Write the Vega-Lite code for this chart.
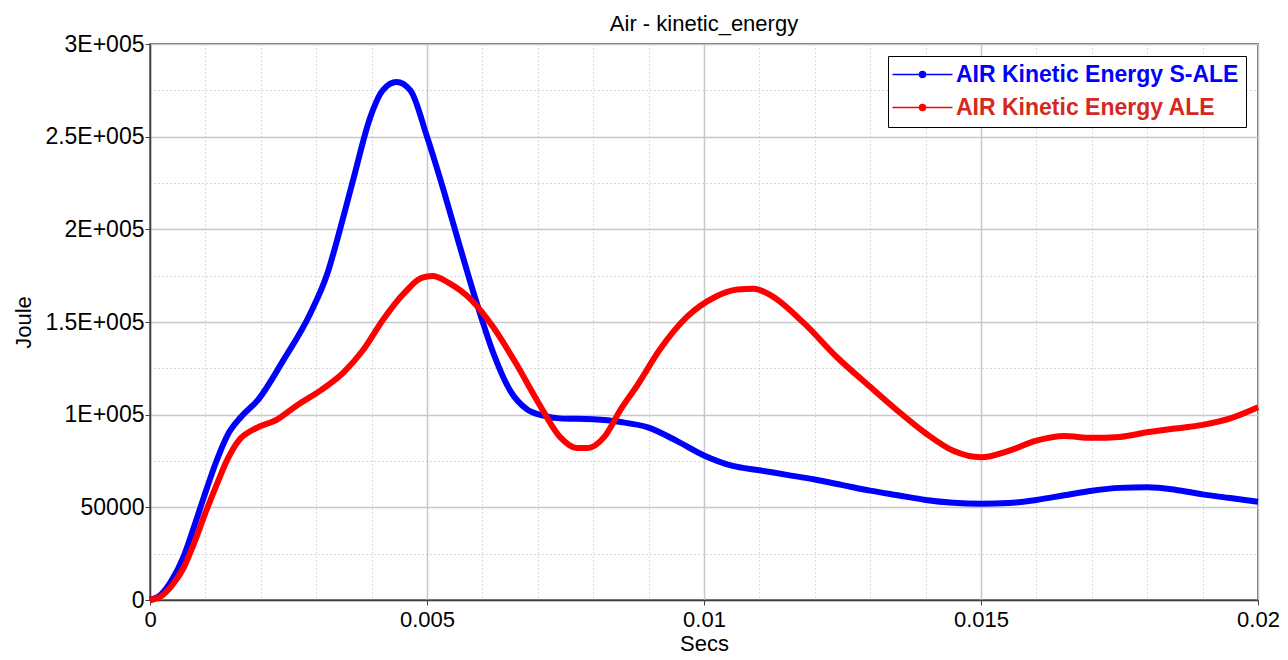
{
  "$schema": "https://vega.github.io/schema/vega-lite/v6.json",
  "autosize": "none",
  "width": 1108,
  "height": 556,
  "padding": {"left": 150, "top": 44, "right": 30, "bottom": 60},
  "background": "white",
  "title": {"text": "Air - kinetic_energy", "frame": "group", "anchor": "middle", "baseline": "alphabetic", "offset": 12, "dy": 32, "font": "Liberation Sans", "fontSize": 22, "fontWeight": "normal", "color": "#000000"},
  "config": {
    "view": {"stroke": "#404040", "strokeWidth": 1.5},
    "axis": {"labelFont": "Liberation Sans", "titleFont": "Liberation Sans", "labelColor": "#000000", "titleColor": "#000000"}
  },
  "data": {"values": [
    {"s": "AIR Kinetic Energy S-ALE", "t": 0, "e": 0},
    {"s": "AIR Kinetic Energy S-ALE", "t": 0.0002, "e": 3000},
    {"s": "AIR Kinetic Energy S-ALE", "t": 0.0004, "e": 11000},
    {"s": "AIR Kinetic Energy S-ALE", "t": 0.0006, "e": 23000},
    {"s": "AIR Kinetic Energy S-ALE", "t": 0.0008, "e": 40000},
    {"s": "AIR Kinetic Energy S-ALE", "t": 0.001, "e": 58000},
    {"s": "AIR Kinetic Energy S-ALE", "t": 0.0012, "e": 75000},
    {"s": "AIR Kinetic Energy S-ALE", "t": 0.0014, "e": 89000},
    {"s": "AIR Kinetic Energy S-ALE", "t": 0.00165, "e": 99000},
    {"s": "AIR Kinetic Energy S-ALE", "t": 0.00195, "e": 108000},
    {"s": "AIR Kinetic Energy S-ALE", "t": 0.0024, "e": 129000},
    {"s": "AIR Kinetic Energy S-ALE", "t": 0.0029, "e": 155000},
    {"s": "AIR Kinetic Energy S-ALE", "t": 0.0032, "e": 176000},
    {"s": "AIR Kinetic Energy S-ALE", "t": 0.00343, "e": 200000},
    {"s": "AIR Kinetic Energy S-ALE", "t": 0.00367, "e": 227000},
    {"s": "AIR Kinetic Energy S-ALE", "t": 0.00397, "e": 260000},
    {"s": "AIR Kinetic Energy S-ALE", "t": 0.0042, "e": 275000},
    {"s": "AIR Kinetic Energy S-ALE", "t": 0.00445, "e": 279500},
    {"s": "AIR Kinetic Energy S-ALE", "t": 0.0047, "e": 275000},
    {"s": "AIR Kinetic Energy S-ALE", "t": 0.005, "e": 250000},
    {"s": "AIR Kinetic Energy S-ALE", "t": 0.0053, "e": 221000},
    {"s": "AIR Kinetic Energy S-ALE", "t": 0.0056, "e": 190000},
    {"s": "AIR Kinetic Energy S-ALE", "t": 0.0059, "e": 160000},
    {"s": "AIR Kinetic Energy S-ALE", "t": 0.0062, "e": 133000},
    {"s": "AIR Kinetic Energy S-ALE", "t": 0.0065, "e": 113000},
    {"s": "AIR Kinetic Energy S-ALE", "t": 0.0068, "e": 103000},
    {"s": "AIR Kinetic Energy S-ALE", "t": 0.0071, "e": 99500},
    {"s": "AIR Kinetic Energy S-ALE", "t": 0.0074, "e": 98000},
    {"s": "AIR Kinetic Energy S-ALE", "t": 0.008, "e": 97500},
    {"s": "AIR Kinetic Energy S-ALE", "t": 0.0085, "e": 96000},
    {"s": "AIR Kinetic Energy S-ALE", "t": 0.009, "e": 93000},
    {"s": "AIR Kinetic Energy S-ALE", "t": 0.0095, "e": 86000},
    {"s": "AIR Kinetic Energy S-ALE", "t": 0.01, "e": 78000},
    {"s": "AIR Kinetic Energy S-ALE", "t": 0.0105, "e": 72500},
    {"s": "AIR Kinetic Energy S-ALE", "t": 0.011, "e": 70000},
    {"s": "AIR Kinetic Energy S-ALE", "t": 0.0115, "e": 67500},
    {"s": "AIR Kinetic Energy S-ALE", "t": 0.012, "e": 65000},
    {"s": "AIR Kinetic Energy S-ALE", "t": 0.0125, "e": 62000},
    {"s": "AIR Kinetic Energy S-ALE", "t": 0.013, "e": 59000},
    {"s": "AIR Kinetic Energy S-ALE", "t": 0.0135, "e": 56500},
    {"s": "AIR Kinetic Energy S-ALE", "t": 0.014, "e": 54000},
    {"s": "AIR Kinetic Energy S-ALE", "t": 0.0145, "e": 52500},
    {"s": "AIR Kinetic Energy S-ALE", "t": 0.015, "e": 52000},
    {"s": "AIR Kinetic Energy S-ALE", "t": 0.0155, "e": 52300},
    {"s": "AIR Kinetic Energy S-ALE", "t": 0.016, "e": 54000},
    {"s": "AIR Kinetic Energy S-ALE", "t": 0.0165, "e": 56500},
    {"s": "AIR Kinetic Energy S-ALE", "t": 0.017, "e": 59000},
    {"s": "AIR Kinetic Energy S-ALE", "t": 0.0175, "e": 60500},
    {"s": "AIR Kinetic Energy S-ALE", "t": 0.018, "e": 60800},
    {"s": "AIR Kinetic Energy S-ALE", "t": 0.0185, "e": 59500},
    {"s": "AIR Kinetic Energy S-ALE", "t": 0.019, "e": 57000},
    {"s": "AIR Kinetic Energy S-ALE", "t": 0.0195, "e": 55000},
    {"s": "AIR Kinetic Energy S-ALE", "t": 0.02, "e": 53000},
    {"s": "AIR Kinetic Energy ALE", "t": 0, "e": 0},
    {"s": "AIR Kinetic Energy ALE", "t": 0.0002, "e": 2000},
    {"s": "AIR Kinetic Energy ALE", "t": 0.0004, "e": 8000},
    {"s": "AIR Kinetic Energy ALE", "t": 0.0006, "e": 17000},
    {"s": "AIR Kinetic Energy ALE", "t": 0.0008, "e": 31000},
    {"s": "AIR Kinetic Energy ALE", "t": 0.001, "e": 47000},
    {"s": "AIR Kinetic Energy ALE", "t": 0.0012, "e": 62000},
    {"s": "AIR Kinetic Energy ALE", "t": 0.0014, "e": 76000},
    {"s": "AIR Kinetic Energy ALE", "t": 0.0016, "e": 86000},
    {"s": "AIR Kinetic Energy ALE", "t": 0.0019, "e": 92500},
    {"s": "AIR Kinetic Energy ALE", "t": 0.0023, "e": 97500},
    {"s": "AIR Kinetic Energy ALE", "t": 0.00265, "e": 105000},
    {"s": "AIR Kinetic Energy ALE", "t": 0.0031, "e": 113500},
    {"s": "AIR Kinetic Energy ALE", "t": 0.0035, "e": 123000},
    {"s": "AIR Kinetic Energy ALE", "t": 0.00385, "e": 135000},
    {"s": "AIR Kinetic Energy ALE", "t": 0.0042, "e": 151000},
    {"s": "AIR Kinetic Energy ALE", "t": 0.0046, "e": 166000},
    {"s": "AIR Kinetic Energy ALE", "t": 0.0049, "e": 173800},
    {"s": "AIR Kinetic Energy ALE", "t": 0.0051, "e": 174800},
    {"s": "AIR Kinetic Energy ALE", "t": 0.0054, "e": 171000},
    {"s": "AIR Kinetic Energy ALE", "t": 0.0058, "e": 162000},
    {"s": "AIR Kinetic Energy ALE", "t": 0.0062, "e": 147000},
    {"s": "AIR Kinetic Energy ALE", "t": 0.0066, "e": 128000},
    {"s": "AIR Kinetic Energy ALE", "t": 0.007, "e": 107000},
    {"s": "AIR Kinetic Energy ALE", "t": 0.0074, "e": 88000},
    {"s": "AIR Kinetic Energy ALE", "t": 0.0077, "e": 82000},
    {"s": "AIR Kinetic Energy ALE", "t": 0.0079, "e": 82000},
    {"s": "AIR Kinetic Energy ALE", "t": 0.0082, "e": 88000},
    {"s": "AIR Kinetic Energy ALE", "t": 0.0085, "e": 103000},
    {"s": "AIR Kinetic Energy ALE", "t": 0.0088, "e": 116000},
    {"s": "AIR Kinetic Energy ALE", "t": 0.0092, "e": 135000},
    {"s": "AIR Kinetic Energy ALE", "t": 0.0097, "e": 153000},
    {"s": "AIR Kinetic Energy ALE", "t": 0.0102, "e": 163500},
    {"s": "AIR Kinetic Energy ALE", "t": 0.0106, "e": 167500},
    {"s": "AIR Kinetic Energy ALE", "t": 0.0109, "e": 168000},
    {"s": "AIR Kinetic Energy ALE", "t": 0.0112, "e": 164500},
    {"s": "AIR Kinetic Energy ALE", "t": 0.0118, "e": 149500},
    {"s": "AIR Kinetic Energy ALE", "t": 0.0124, "e": 131000},
    {"s": "AIR Kinetic Energy ALE", "t": 0.013, "e": 115000},
    {"s": "AIR Kinetic Energy ALE", "t": 0.0135, "e": 102000},
    {"s": "AIR Kinetic Energy ALE", "t": 0.014, "e": 90000},
    {"s": "AIR Kinetic Energy ALE", "t": 0.0145, "e": 80500},
    {"s": "AIR Kinetic Energy ALE", "t": 0.015, "e": 77000},
    {"s": "AIR Kinetic Energy ALE", "t": 0.0155, "e": 80500},
    {"s": "AIR Kinetic Energy ALE", "t": 0.016, "e": 86000},
    {"s": "AIR Kinetic Energy ALE", "t": 0.0165, "e": 88500},
    {"s": "AIR Kinetic Energy ALE", "t": 0.017, "e": 87500},
    {"s": "AIR Kinetic Energy ALE", "t": 0.0175, "e": 88000},
    {"s": "AIR Kinetic Energy ALE", "t": 0.018, "e": 90500},
    {"s": "AIR Kinetic Energy ALE", "t": 0.0185, "e": 92500},
    {"s": "AIR Kinetic Energy ALE", "t": 0.019, "e": 94500},
    {"s": "AIR Kinetic Energy ALE", "t": 0.0195, "e": 98000},
    {"s": "AIR Kinetic Energy ALE", "t": 0.02, "e": 104000}
  ]},
  "layer": [
    {
      "mark": {"type": "line", "strokeWidth": 0, "opacity": 0},
      "encoding": {
        "x": {"field": "t", "type": "quantitative", "scale": {"domain": [0, 0.02], "nice": false, "zero": false},
          "axis": {"orient": "bottom", "values": [0.001, 0.002, 0.003, 0.004, 0.006, 0.007, 0.008, 0.009, 0.011, 0.012, 0.013, 0.014, 0.016, 0.017, 0.018, 0.019], "labels": false, "ticks": false, "domain": false, "title": null, "grid": true, "gridColor": "#b4b4b4", "gridDash": [1, 3], "gridWidth": 1}},
        "y": {"field": "e", "type": "quantitative", "scale": {"domain": [0, 300000], "nice": false},
          "axis": {"orient": "left", "values": [25000, 75000, 125000, 175000, 225000, 275000], "labels": false, "ticks": false, "domain": false, "title": null, "grid": true, "gridColor": "#b4b4b4", "gridDash": [1, 3], "gridWidth": 1}},
        "detail": {"field": "s"}
      }
    },
    {
      "mark": {"type": "line", "strokeWidth": 6, "interpolate": "monotone"},
      "encoding": {
        "x": {"field": "t", "type": "quantitative", "scale": {"domain": [0, 0.02], "nice": false, "zero": false},
          "axis": {"orient": "bottom", "values": [0, 0.005, 0.01, 0.015, 0.02], "labelExpr": "'' + datum.value", "labelFlush": false, "labelOverlap": false, "labelFontSize": 22, "labelPadding": 4, "tickSize": 5, "tickColor": "#404040", "domainColor": "#404040", "domainWidth": 1.5, "grid": true, "gridColor": "#c8c8c8", "gridWidth": 1.5, "title": "Secs", "titleFontSize": 22, "titleFontWeight": "normal", "titleY": 43, "titleBaseline": "middle"}},
        "y": {"field": "e", "type": "quantitative", "scale": {"domain": [0, 300000], "nice": false},
          "axis": {"orient": "left", "values": [0, 50000, 100000, 150000, 200000, 250000, 300000], "labelExpr": "datum.value >= 100000 ? (datum.value / 100000) + 'E+005' : '' + datum.value", "labelFlush": false, "labelOverlap": false, "labelFontSize": 23, "labelPadding": 1, "tickSize": 5, "tickColor": "#404040", "domainColor": "#404040", "domainWidth": 1.5, "grid": true, "gridColor": "#c8c8c8", "gridWidth": 1.5, "title": "Joule", "titleFontSize": 22, "titleFontWeight": "normal", "titleX": -127, "titleY": 278, "titleAngle": -90, "titleAlign": "center", "titleBaseline": "middle"}},
        "color": {"field": "s", "type": "nominal",
          "scale": {"domain": ["AIR Kinetic Energy S-ALE", "AIR Kinetic Energy ALE"], "range": ["#0000ff", "#ff0000"]},
          "legend": {"orient": "none", "legendX": 738, "legendY": 12, "direction": "vertical", "title": null, "strokeColor": "#000000", "fillColor": "#ffffff", "padding": 7,
            "labelFont": "Liberation Sans", "labelFontSize": 23, "labelFontWeight": "bold", "labelLimit": 500, "labelOffset": 38, "rowPadding": 9,
            "symbolType": "M-1.4,0H4.6M1.3,0A0.3,0.3 0 1,0 1.9,0A0.3,0.3 0 1,0 1.3,0", "symbolSize": 400, "symbolStrokeWidth": 1.5,
            "encode": {
              "labels": {"update": {"fill": {"signal": "datum.value === 'AIR Kinetic Energy S-ALE' ? '#0000ff' : '#d42a1e'"}}},
              "symbols": {"update": {"fill": {"scale": "color", "field": "value"}, "stroke": {"scale": "color", "field": "value"}}}
            }}}
      }
    }
  ],
  "resolve": {"axis": {"x": "independent", "y": "independent"}}
}
